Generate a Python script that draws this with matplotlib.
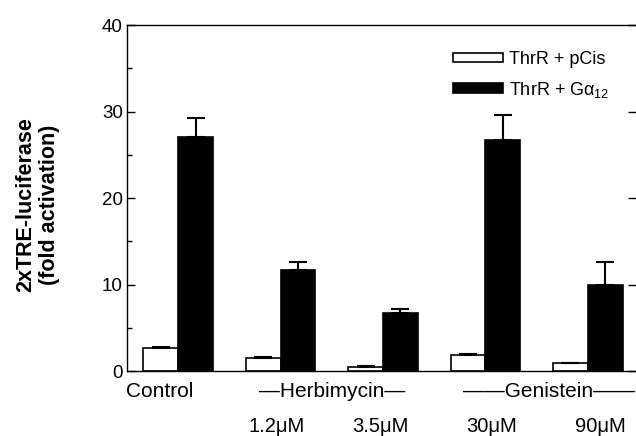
"""
Fold activation of 2xTRE-luciferase with kinase inhibitors.
"""

import matplotlib
matplotlib.use("Agg")
import matplotlib.pyplot as plt
import matplotlib.transforms as mtransforms
import numpy as np

plt.rcParams["font.family"] = ["Liberation Sans", "DejaVu Sans"]
plt.rcParams["mathtext.fontset"] = "custom"
plt.rcParams["mathtext.rm"] = "Liberation Sans"
plt.rcParams["mathtext.it"] = "Liberation Sans"

# =========================================================
# DATA
# =========================================================

groups = ["Control", "1.2\u03bcM", "3.5\u03bcM", "30\u03bcM", "90\u03bcM"]

pcis_values = [2.7, 1.5, 0.5, 1.85, 0.9]
pcis_errors = [0.08, 0.12, 0.05, 0.15, 0.05]

ga12_values = [27.1, 11.7, 6.7, 26.7, 10.0]
ga12_errors = [2.2, 0.95, 0.5, 2.9, 2.55]

series_labels = ["ThrR + pCis", r"ThrR + G$\alpha_{12}$"]

y_ticks = [0, 10, 20, 30, 40]

treatment_labels = ["\u2014Herbimycin\u2014", "\u2014\u2014Genistein\u2014\u2014"]

# =========================================================
# FIGURE
# =========================================================

fig = plt.figure(figsize=(6.36, 4.36), dpi=100)

ax = fig.add_axes([0.1997, 0.149, 0.8003, 0.7936])

x = np.arange(len(groups))

width = 0.34

zeros = np.zeros(len(groups))

b1 = ax.bar(
    x - width / 2,
    pcis_values,
    width,
    color="white",
    edgecolor="black",
    linewidth=1.2,
    yerr=[zeros, pcis_errors],
    error_kw=dict(ecolor="black", elinewidth=1.5, capsize=6.5, capthick=1.5),
    label=series_labels[0],
)

b2 = ax.bar(
    x + width / 2,
    ga12_values,
    width,
    color="black",
    edgecolor="black",
    linewidth=1.2,
    yerr=[zeros, ga12_errors],
    error_kw=dict(ecolor="black", elinewidth=1.5, capsize=6.5, capthick=1.5),
    label=series_labels[1],
)

ax.set_xlim(-0.5, 4.47)

ax.set_ylim(0, 40)

ax.set_yticks(y_ticks)

ax.set_yticks([5, 15, 25, 35], minor=True)

ax.set_xticks([])

ax.tick_params(axis="y", which="major", direction="in", length=6,
               width=1, labelsize=13.5, pad=3, right=True)

ax.tick_params(axis="y", which="minor", direction="in", length=3.5,
               width=1, right=False)

ax.spines["right"].set_visible(False)

for side in ["left", "top", "bottom"]:
    ax.spines[side].set_linewidth(1.0)

# =========================================================
# CATEGORY LABELS
# =========================================================

trans = mtransforms.blended_transform_factory(ax.transData, ax.transAxes)

ax.text(-0.18, -0.075, groups[0], transform=trans,
        ha="center", va="baseline", fontsize=15)

ax.text(1.5, -0.075, treatment_labels[0], transform=trans,
        ha="center", va="baseline", fontsize=15)

ax.text(3.62, -0.075, treatment_labels[1], transform=trans,
        ha="center", va="baseline", fontsize=15)

label_shift = [0.0, -0.04, -0.03, 0.06, 0.12]

for i in range(1, len(groups)):
    ax.text(x[i] + label_shift[i], -0.176, groups[i], transform=trans,
            ha="center", va="baseline", fontsize=14.5)

# =========================================================
# Y LABEL
# =========================================================

fig.text(
    0.059,
    0.53,
    "2xTRE-luciferase\n(fold activation)",
    rotation=90,
    ha="center",
    va="center",
    multialignment="center",
    fontsize=15.5,
    fontweight="bold",
    linespacing=1.15,
)

# =========================================================
# LEGEND
# =========================================================

ax.legend(
    handles=[b1, b2],
    loc="upper left",
    bbox_to_anchor=(0.64, 0.925),
    frameon=False,
    fontsize=13,
    handlelength=2.8,
    handleheight=0.45,
    handletextpad=0.3,
    labelspacing=0.65,
    borderpad=0,
    borderaxespad=0,
)

fig.savefig("out.png", dpi=100)
